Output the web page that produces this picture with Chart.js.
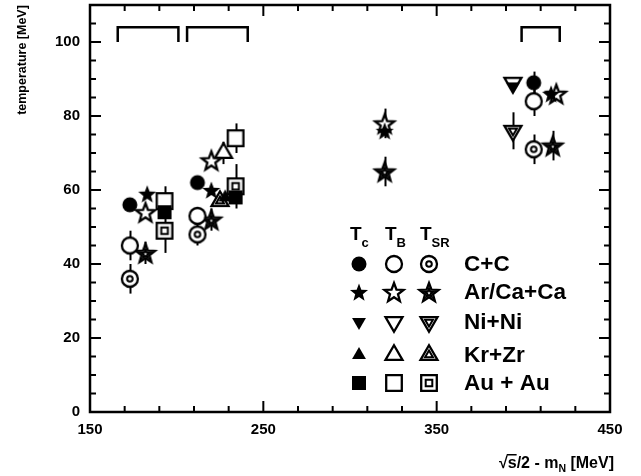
<!DOCTYPE html>
<html>
<head>
<meta charset="utf-8">
<script src="https://cdn.jsdelivr.net/npm/chart.js@4.4.1/dist/chart.umd.min.js"></script>
<style>
html, body { margin: 0; padding: 0; background: #fff; }
</style>
</head>
<body>
<canvas id="tempChart" width="641" height="476"></canvas>
<script>
// Temperatures from three thermometers vs available energy per nucleon

const FONT = "'Liberation Sans', Arial, Helvetica, sans-serif"

// axes
const xRange = [150, 450]
const yRange = [0, 110]
const xTickLabels = [150, 250, 350, 450]
const yTickLabels = [0, 20, 40, 60, 80, 100]

// C+C
const ccTcX = [173, 212, 406]
const ccTcY = [56, 62, 89]
const ccTcErr = [0, 0, 3]
const ccTbX = [173, 212, 406]
const ccTbY = [45, 53, 84]
const ccTbErr = [4, 0, 4]
const ccTsrX = [173, 212, 406]
const ccTsrY = [36, 48, 71]
const ccTsrErr = [4, 3, 4]

// Ar/Ca+Ca
const arTcX = [183, 220, 320, 416]
const arTcY = [59, 60, 76, 86]
const arTbX = [182, 220, 320, 419]
const arTbY = [54, 68, 78, 86]
const arTbErr = [0, 0, 4, 0]
const arTsrX = [182, 220, 320, 417]
const arTsrY = [43, 52, 65, 72]
const arTsrErr = [3, 3, 4, 4]

// Ni+Ni
const niTcX = [394]
const niTcY = [88]
const niTbX = [394]
const niTbY = [89]
const niTsrX = [394]
const niTsrY = [76]
const niTsrErr = [5]

// Kr+Zr
const krTcX = [228]
const krTcY = [58]
const krTbX = [227]
const krTbY = [70]
const krTbErr = [3]
const krTsrX = [225]
const krTsrY = [57]

// Au+Au
const auTcX = [193, 234]
const auTcY = [54, 58]
const auTbX = [193, 234]
const auTbY = [57, 74]
const auTbErr = [4, 4]
const auTsrX = [193, 234]
const auTsrY = [49, 61]
const auTsrErr = [6, 6]

// energy groups marked along the top
const groupSpans = [[166, 201], [206, 241], [399, 421]]
const groupTop = 104
const groupFoot = 100

const systems = ["C+C", "Ar/Ca+Ca", "Ni+Ni", "Kr+Zr", "Au + Au"]
const systemShapes = ["circle", "star", "triDown", "triUp", "square"]


// --- marker images ---

function shapePath(ctx, shape, c, s){
	ctx.beginPath()
	if(shape === "circle"){
		ctx.arc(c, c, s, 0, Math.PI * 2)
	} else if(shape === "square"){
		ctx.rect(c - s, c - s, 2 * s, 2 * s)
	} else if(shape === "triUp" || shape === "triDown"){
		let d = shape === "triUp" ? -1 : 1
		ctx.moveTo(c, c + d * s)
		ctx.lineTo(c + s * 0.866, c - d * s * 0.5)
		ctx.lineTo(c - s * 0.866, c - d * s * 0.5)
		ctx.closePath()
	} else if(shape === "star"){
		for(let i = 0; i < 10; i++){
			let r = i % 2 === 0 ? s : s * 0.42
			let a = -Math.PI / 2 + i * Math.PI / 5
			let px = c + r * Math.cos(a), py = c + 1 + r * Math.sin(a)
			if(i === 0) ctx.moveTo(px, py)
			else ctx.lineTo(px, py)
		}
		ctx.closePath()
	}
}

const sizes = {
	circle:  { filled: 7.5, open: 8, inner: 2.8 },
	star:    { filled: 9.5, open: 10, inner: 4.6 },
	triDown: { filled: 8, open: 9.8, inner: 4.6 },
	triUp:   { filled: 8, open: 9.8, inner: 4.6 },
	square:  { filled: 7, open: 7.8, inner: 3.3 }
}

function makeMarker(shape, mode){
	let cv = document.createElement("canvas")
	cv.width = 30
	cv.height = 30
	let ctx = cv.getContext("2d")
	let c = 15
	let sz = sizes[shape]
	ctx.lineJoin = "miter"
	if(mode === "filled"){
		shapePath(ctx, shape, c, sz.filled)
		ctx.fillStyle = "#000"
		ctx.fill()
		return cv
	}
	shapePath(ctx, shape, c, sz.open)
	ctx.fillStyle = "#fff"
	ctx.fill()
	ctx.lineWidth = 2.3
	ctx.strokeStyle = "#000"
	ctx.stroke()
	if(mode === "double"){
		shapePath(ctx, shape, c, sz.inner)
		ctx.lineWidth = 2
		ctx.stroke()
	}
	return cv
}

const markers = {}
systemShapes.forEach(sh => {
	markers[sh] = {
		filled: makeMarker(sh, "filled"),
		open: makeMarker(sh, "open"),
		double: makeMarker(sh, "double")
	}
})


// --- datasets ---

function series(xs, ys, errs, shape, mode){
	return {
		type: "scatter",
		data: xs.map((x, i) => ({ x: x, y: ys[i] })),
		errors: errs || [],
		pointStyle: markers[shape][mode],
		pointRadius: 10,
		showLine: false
	}
}

let groupPoints = []
groupSpans.forEach(span => {
	groupPoints.push({ x: span[0], y: groupFoot })
	groupPoints.push({ x: span[0], y: groupTop })
	groupPoints.push({ x: span[1], y: groupTop })
	groupPoints.push({ x: span[1], y: groupFoot })
	groupPoints.push({ x: span[1], y: null })
})

const datasets = [
	series(ccTcX, ccTcY, ccTcErr, "circle", "filled"),
	series(arTcX, arTcY, null, "star", "filled"),
	series(niTcX, niTcY, null, "triDown", "filled"),
	series(krTcX, krTcY, null, "triUp", "filled"),
	series(auTcX, auTcY, null, "square", "filled"),
	series(ccTbX, ccTbY, ccTbErr, "circle", "open"),
	series(arTbX, arTbY, arTbErr, "star", "open"),
	series(niTbX, niTbY, null, "triDown", "open"),
	series(krTbX, krTbY, krTbErr, "triUp", "open"),
	series(auTbX, auTbY, auTbErr, "square", "open"),
	series(ccTsrX, ccTsrY, ccTsrErr, "circle", "double"),
	series(arTsrX, arTsrY, arTsrErr, "star", "double"),
	series(niTsrX, niTsrY, niTsrErr, "triDown", "double"),
	series(krTsrX, krTsrY, null, "triUp", "double"),
	series(auTsrX, auTsrY, auTsrErr, "square", "double"),
	{
		type: "line",
		data: groupPoints,
		borderColor: "#000",
		borderWidth: 2.5,
		pointRadius: 0,
		spanGaps: false,
		fill: false
	}
]


// --- plugins ---

// vertical error bars, drawn under the markers
const errorBars = {
	id: "errorBars",
	beforeDatasetsDraw(chart){
		let ctx = chart.ctx
		let xs = chart.scales.x, ys = chart.scales.y
		ctx.save()
		ctx.strokeStyle = "#000"
		ctx.lineWidth = 2
		chart.data.datasets.forEach(ds => {
			if(!ds.errors) return
			ds.data.forEach((p, i) => {
				let e = ds.errors[i]
				if(!e) return
				let px = Math.round(xs.getPixelForValue(p.x)) + 0.5
				ctx.beginPath()
				ctx.moveTo(px, ys.getPixelForValue(p.y - e))
				ctx.lineTo(px, ys.getPixelForValue(p.y + e))
				ctx.stroke()
			})
		})
		ctx.restore()
	}
}

// frame with inward ticks on all four sides
const frameTicks = {
	id: "frameTicks",
	afterDraw(chart){
		let ctx = chart.ctx
		let a = chart.chartArea
		let xs = chart.scales.x, ys = chart.scales.y
		ctx.save()
		ctx.strokeStyle = "#000"
		ctx.lineWidth = 2
		ctx.beginPath()
		for(let v = xRange[0]; v <= xRange[1]; v += 20){
			let px = xs.getPixelForValue(v)
			let len = (v - 150) % 100 === 0 ? 11 : 6
			ctx.moveTo(px, a.bottom); ctx.lineTo(px, a.bottom - len)
			ctx.moveTo(px, a.top); ctx.lineTo(px, a.top + len)
		}
		for(let v = yRange[0]; v <= yRange[1]; v += 5){
			let py = ys.getPixelForValue(v)
			let len = v % 20 === 0 ? 11 : 6
			ctx.moveTo(a.left, py); ctx.lineTo(a.left + len, py)
			ctx.moveTo(a.right, py); ctx.lineTo(a.right - len, py)
		}
		ctx.stroke()
		ctx.lineWidth = 2.5
		ctx.strokeRect(a.left, a.top, a.right - a.left, a.bottom - a.top)
		ctx.restore()
	}
}

// axis titles and the symbol key
const annotations = {
	id: "annotations",
	afterDraw(chart){
		let ctx = chart.ctx
		ctx.save()
		ctx.fillStyle = "#000"

		// y title
		ctx.save()
		ctx.translate(26, 60)
		ctx.rotate(-Math.PI / 2)
		ctx.font = "bold 12.5px " + FONT
		ctx.textAlign = "center"
		ctx.textBaseline = "alphabetic"
		ctx.fillText("temperature [MeV]", 0, 0)
		ctx.restore()

		// x title: sqrt(s)/2 - m_N [MeV]
		let big = "bold 16px " + FONT, small = "bold 10.5px " + FONT
		let base = 468
		let parts = [
			{ t: "\u221A", f: big, dy: 0 },
			{ t: "s", f: big, dy: 0, bar: true },
			{ t: "/2 - m", f: big, dy: 0 },
			{ t: "N", f: small, dy: 4 },
			{ t: " [MeV]", f: big, dy: 0 }
		]
		let total = 0
		parts.forEach(p => { ctx.font = p.f; p.w = ctx.measureText(p.t).width; total += p.w })
		let x = 614 - total
		ctx.textAlign = "left"
		parts.forEach(p => {
			ctx.font = p.f
			ctx.fillText(p.t, x, base + p.dy)
			if(p.bar) ctx.fillRect(x - 1, base - 14, p.w + 1, 1.5)
			x += p.w
		})

		// key: column headers
		let cols = [359, 394, 429]
		let subs = ["c", "B", "SR"]
		cols.forEach((cx, i) => {
			ctx.font = "bold 19px " + FONT
			let tw = ctx.measureText("T").width
			let x0 = cx - 9
			ctx.fillText("T", x0, 240)
			ctx.font = "bold 13px " + FONT
			ctx.fillText(subs[i], x0 + tw, 247)
		})

		// key: rows
		let rows = [264, 292, 322, 355, 383]
		let modes = ["filled", "open", "double"]
		ctx.textBaseline = "middle"
		rows.forEach((ry, r) => {
			modes.forEach((m, k) => {
				ctx.drawImage(markers[systemShapes[r]][m], cols[k] - 15, ry - 15)
			})
			ctx.font = "bold 22.5px " + FONT
			ctx.fillText(systems[r], 464, ry + 1)
		})
		ctx.restore()
	}
}


// --- chart ---

new Chart(document.getElementById("tempChart"), {
	type: "scatter",
	data: { datasets: datasets },
	options: {
		responsive: false,
		animation: false,
		devicePixelRatio: 1,
		layout: { autoPadding: false, padding: { top: 5, right: 31, left: 0, bottom: 0 } },
		plugins: {
			legend: { display: false },
			tooltip: { enabled: false }
		},
		scales: {
			x: {
				type: "linear",
				min: xRange[0],
				max: xRange[1],
				afterFit: s => { s.height = 64; s.paddingLeft = 0; s.paddingRight = 0 },
				afterBuildTicks: s => { s.ticks = xTickLabels.map(v => ({ value: v })) },
				grid: { display: false, drawTicks: false },
				border: { display: false },
				ticks: { color: "#000", padding: 9, maxRotation: 0, font: { family: FONT, size: 15, weight: "bold" } }
			},
			y: {
				type: "linear",
				min: yRange[0],
				max: yRange[1],
				afterFit: s => { s.width = 90; s.paddingTop = 0; s.paddingBottom = 0 },
				afterBuildTicks: s => { s.ticks = yTickLabels.map(v => ({ value: v })) },
				grid: { display: false, drawTicks: false },
				border: { display: false },
				ticks: { color: "#000", padding: 10, font: { family: FONT, size: 15, weight: "bold" } }
			}
		}
	},
	plugins: [errorBars, frameTicks, annotations]
})
</script>
</body>
</html>
